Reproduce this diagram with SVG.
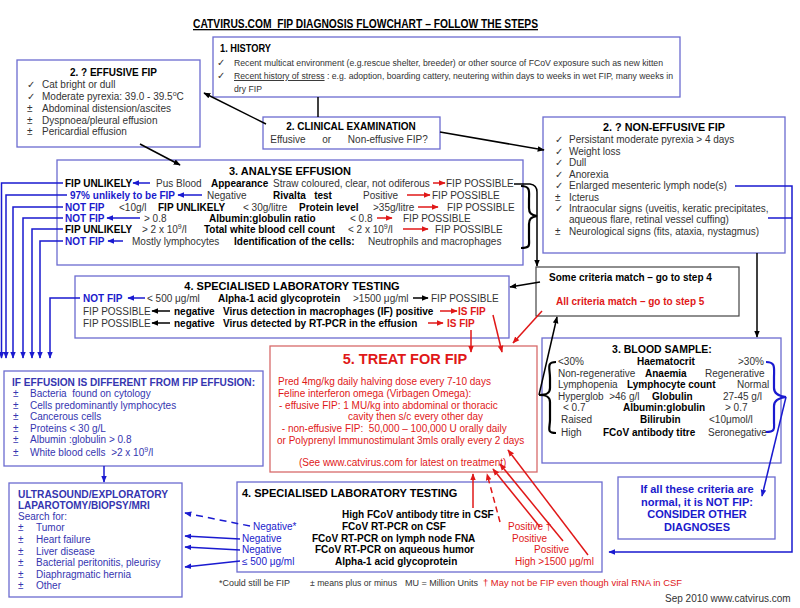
<svg xmlns="http://www.w3.org/2000/svg" width="800" height="608" viewBox="0 0 800 608">
<style>
text{font-family:"Liberation Sans",Arial,sans-serif;font-size:10px;fill:#333}
.b{font-weight:bold;fill:#000}
.bl{fill:#1a1acc}
.bt{fill:#3535b0}
.rd{fill:#e01818}
.box{fill:#fff;stroke:#6b6bd0;stroke-width:1.3}
.rbox{fill:#fff;stroke:#d86a6a;stroke-width:1.3}
.gbox{fill:#fff;stroke:#444;stroke-width:1.2}
.k{stroke:#000;stroke-width:1.5;fill:none}
.u{stroke:#1a1ad0;stroke-width:1.5;fill:none}
.r{stroke:#e01818;stroke-width:1.5;fill:none}
.h{font-size:9.6px}
.t11{font-size:11px}
.ft{font-size:9.4px}
</style>
<defs>
<marker id="ak" viewBox="0 0 10 10" refX="9" refY="5" markerWidth="7" markerHeight="7" orient="auto" markerUnits="userSpaceOnUse"><path d="M0,1 L10,5 L0,9 z" fill="#000"/></marker>
<marker id="au" viewBox="0 0 10 10" refX="9" refY="5" markerWidth="7" markerHeight="7" orient="auto" markerUnits="userSpaceOnUse"><path d="M0,1 L10,5 L0,9 z" fill="#1a1ad0"/></marker>
<marker id="ar" viewBox="0 0 10 10" refX="9" refY="5" markerWidth="7" markerHeight="7" orient="auto" markerUnits="userSpaceOnUse"><path d="M0,1 L10,5 L0,9 z" fill="#e01818"/></marker>
</defs>
<rect width="800" height="608" fill="#fff"/>
<text x="193" y="28" class="b" style="font-size:13px" textLength="345" lengthAdjust="spacingAndGlyphs" text-decoration="underline" xml:space="preserve">CATVIRUS.COM  FIP DIAGNOSIS FLOWCHART – FOLLOW THE STEPS</text>

<g id="history">
<rect x="213" y="37" width="467" height="60" class="box"/>
<text x="220" y="52" class="b" style="font-size:10.5px" textLength="51" lengthAdjust="spacingAndGlyphs">1. HISTORY</text>
<text x="217" y="66" class="h">✓</text>
<text x="234" y="66" class="h" textLength="429" lengthAdjust="spacingAndGlyphs">Recent multicat environment (e.g.rescue shelter, breeder) or other source of FCoV exposure such as new kitten</text>
<text x="217" y="79" class="h">✓</text>
<text x="234" y="79" class="h" textLength="439" lengthAdjust="spacingAndGlyphs"><tspan text-decoration="underline">Recent history of stress</tspan> : e.g. adoption, boarding cattery, neutering within days to weeks in wet FIP, many weeks in</text>
<text x="234" y="92" class="h" textLength="28" lengthAdjust="spacingAndGlyphs">dry FIP</text>
</g>

<g id="effusive">
<rect x="17" y="60" width="183" height="87" class="box"/>
<text x="70" y="76" class="b" style="font-size:10.5px" textLength="87" lengthAdjust="spacingAndGlyphs">2. ? EFFUSIVE FIP</text>
<text x="27" y="88">✓</text><text x="42" y="88">Cat bright or dull</text>
<text x="27" y="100">✓</text><text x="42" y="100">Moderate pyrexia: 39.0 - 39.5<tspan dy="-4" font-size="7">o</tspan><tspan dy="4">C</tspan></text>
<text x="27" y="112">±</text><text x="42" y="112">Abdominal distension/ascites</text>
<text x="27" y="123.5">±</text><text x="42" y="123.5">Dyspnoea/pleural effusion</text>
<text x="27" y="135">±</text><text x="42" y="135">Pericardial effusion</text>
</g>

<g id="clinical">
<rect x="263" y="117" width="177" height="32" class="box"/>
<text x="351" y="130" class="b" text-anchor="middle">2. CLINICAL EXAMINATION</text>
<text x="349" y="143" text-anchor="middle" xml:space="preserve">Effusive      or      Non-effusive FIP?</text>
</g>

<g id="noneffusive">
<rect x="543" y="117" width="242" height="136" class="box"/>
<text x="664" y="131" class="b" text-anchor="middle" style="font-size:10.8px">2. ? NON-EFFUSIVE FIP</text>
<text x="555" y="143">✓</text><text x="569" y="143">Persistant moderate pyrexia &gt; 4 days</text>
<text x="555" y="154.5">✓</text><text x="569" y="154.5">Weight loss</text>
<text x="555" y="166">✓</text><text x="569" y="166">Dull</text>
<text x="555" y="177.5">✓</text><text x="569" y="177.5">Anorexia</text>
<text x="555" y="189">✓</text><text x="569" y="189">Enlarged mesenteric lymph node(s)</text>
<text x="555" y="200.5">±</text><text x="569" y="200.5">Icterus</text>
<text x="555" y="212">✓</text><text x="569" y="212">Intraocular signs (uveitis, keratic precipitates,</text>
<text x="569" y="223">aqueous flare, retinal vessel cuffing)</text>
<text x="555" y="235">±</text><text x="569" y="235">Neurological signs (fits, ataxia, nystagmus)</text>
</g>

<g id="analyse">
<rect x="57" y="160" width="466" height="105" class="box"/>
<text x="290" y="175" class="b t11" text-anchor="middle">3. ANALYSE EFFUSION</text>
<text x="65" y="186.5" class="b">FIP UNLIKELY</text>
<text x="156" y="186.5">Pus Blood</text>
<text x="211" y="186.5" class="b">Appearance</text>
<text x="273" y="186.5">Straw coloured, clear, not odiferous</text>
<text x="446" y="186.5">FIP POSSIBLE</text>
<text x="70" y="198.5" class="b bl">97% unlikely to be FIP</text>
<text x="207" y="198.5">Negative</text>
<text x="273" y="198.5" class="b" xml:space="preserve">Rivalta   test</text>
<text x="363" y="198.5">Positive</text>
<text x="432" y="198.5">FIP POSSIBLE</text>
<text x="65" y="210.5" class="b bl">NOT FIP</text>
<text x="119" y="210.5">&lt;10g/l</text>
<text x="158" y="210.5" class="b">FIP UNLIKELY</text>
<text x="243" y="210.5">&lt; 30g/litre</text>
<text x="299" y="210.5" class="b">Protein level</text>
<text x="373" y="210.5">&gt;35g/litre</text>
<text x="447" y="210.5">FIP POSSIBLE</text>
<text x="65" y="221.5" class="b bl">NOT FIP</text>
<text x="144" y="221.5">&gt; 0.8</text>
<text x="209" y="221.5" class="b">Albumin:globulin ratio</text>
<text x="350" y="221.5">&lt; 0.8</text>
<text x="403" y="221.5">FIP POSSIBLE</text>
<text x="65" y="232.5" class="b">FIP UNLIKELY</text>
<text x="142" y="232.5">&gt; 2 x 10<tspan dy="-4" font-size="7">9</tspan><tspan dy="4">/l</tspan></text>
<text x="204" y="232.5" class="b">Total white blood cell count</text>
<text x="348" y="232.5">&lt; 2 x 10<tspan dy="-4" font-size="7">9</tspan><tspan dy="4">/l</tspan></text>
<text x="435" y="232.5">FIP POSSIBLE</text>
<text x="65" y="244.5" class="b bl">NOT FIP</text>
<text x="132" y="244.5">Mostly lymphocytes</text>
<text x="234" y="244.5" class="b">Identification of the cells:</text>
<text x="368" y="244.5">Neutrophils and macrophages</text>
</g>

<g id="speclab1">
<rect x="75" y="276" width="434" height="62" class="box"/>
<text x="292" y="290" class="b t11" text-anchor="middle">4. SPECIALISED LABORATORY TESTING</text>
<text x="83" y="301.5" class="b bl">NOT FIP</text>
<text x="147" y="301.5">&lt; 500 μg/ml</text>
<text x="218" y="301.5" class="b">Alpha-1 acid glycoprotein</text>
<text x="353" y="301.5">&gt;1500 μg/ml</text>
<text x="431" y="301.5">FIP POSSIBLE</text>
<text x="83" y="314.5">FIP POSSIBLE</text>
<text x="174" y="314.5" class="b">negative</text>
<text x="223" y="314.5" class="b">Virus detection in macrophages (IF) positive</text>
<text x="458" y="314.5" class="b rd">IS FIP</text>
<text x="83" y="326.5">FIP POSSIBLE</text>
<text x="174" y="326.5" class="b">negative</text>
<text x="223" y="326.5" class="b">Virus detected by RT-PCR in the effusion</text>
<text x="447" y="326.5" class="b rd">IS FIP</text>
</g>

<g id="criteria">
<rect x="536" y="267" width="203" height="49" class="gbox"/>
<text x="549" y="281" class="b">Some criteria match – go to step 4</text>
<text x="556" y="305" class="b rd">All criteria match – go to step 5</text>
</g>

<g id="treat">
<rect x="270" y="346" width="267" height="126" class="rbox"/>
<text x="405" y="364" class="b rd" text-anchor="middle" style="font-size:14.5px">5. TREAT FOR FIP</text>
<text x="278" y="384.5" class="rd">Pred 4mg/kg daily halving dose every 7-10 days</text>
<text x="278" y="396.5" class="rd">Feline interferon omega (Virbagen Omega):</text>
<text x="279" y="408.5" class="rd"> - effusive FIP: 1 MU/kg into abdominal or thoracic</text>
<text x="348" y="419.5" class="rd">cavity then s/c every other day</text>
<text x="279" y="431.5" class="rd" xml:space="preserve"> - non-effusive FIP:  50,000 – 100,000 U orally daily</text>
<text x="277" y="443.5" class="rd">or Polyprenyl Immunostimulant 3mls orally every 2 days</text>
<text x="299" y="465.5" class="rd">(See www.catvirus.com for latest on treatment)</text>
</g>

<g id="blood">
<rect x="542" y="338" width="239" height="125" class="box"/>
<text x="662" y="353" class="b" text-anchor="middle" style="font-size:10.5px">3. BLOOD SAMPLE:</text>
<text x="558" y="364.5">&lt;30%</text><text x="637" y="364.5" class="b">Haematocrit</text><text x="738" y="364.5">&gt;30%</text>
<text x="558" y="376.5">Non-regenerative</text><text x="645" y="376.5" class="b">Anaemia</text><text x="705" y="376.5">Regenerative</text>
<text x="558" y="388">Lymphopenia</text><text x="627" y="388" class="b">Lymphocyte count</text><text x="737" y="388">Normal</text>
<text x="558" y="399.5" xml:space="preserve">Hyperglob  &gt;46 g/l</text><text x="652" y="399.5" class="b">Globulin</text><text x="723" y="399.5">27-45 g/l</text>
<text x="563" y="411">&lt; 0.7</text><text x="623" y="411" class="b">Albumin:globulin</text><text x="725" y="411">&gt; 0.7</text>
<text x="561" y="422.5">Raised</text><text x="640" y="422.5" class="b">Bilirubin</text><text x="709" y="422.5">&lt;10μmol/l</text>
<text x="561" y="435.5">High</text><text x="603" y="435.5" class="b">FCoV antibody titre</text><text x="708" y="435.5">Seronegative</text>
</g>

<g id="effusiondiff">
<rect x="4" y="371" width="259" height="95" class="box"/>
<text x="12" y="386" class="b bt" textLength="243" lengthAdjust="spacingAndGlyphs">IF EFFUSION IS DIFFERENT FROM FIP EFFUSION:</text>
<text x="13" y="397" class="bt">±</text><text x="30" y="397" class="bt" xml:space="preserve">Bacteria  found on cytology</text>
<text x="13" y="409" class="bt">±</text><text x="30" y="409" class="bt">Cells predominantly lymphocytes</text>
<text x="13" y="420" class="bt">±</text><text x="30" y="420" class="bt">Cancerous cells</text>
<text x="13" y="432" class="bt">±</text><text x="30" y="432" class="bt">Proteins &lt; 30 g/L</text>
<text x="13" y="443" class="bt">±</text><text x="30" y="443" class="bt">Albumin :globulin &gt; 0.8</text>
<text x="13" y="456" class="bt">±</text><text x="30" y="456" class="bt" xml:space="preserve">White blood cells  &gt;2 x 10<tspan dy="-4" font-size="7">9</tspan><tspan dy="4">/l</tspan></text>
</g>

<g id="ultrasound">
<rect x="9" y="483" width="173" height="114" class="box"/>
<text x="18" y="498" class="b bt" textLength="150" lengthAdjust="spacingAndGlyphs">ULTRASOUND/EXPLORATORY</text>
<text x="18" y="509" class="b bt">LAPAROTOMY/BIOPSY/MRI</text>
<text x="18" y="520" class="bt">Search for:</text>
<text x="18" y="531" class="bt">±</text><text x="36" y="531" class="bt">Tumor</text>
<text x="18" y="543" class="bt">±</text><text x="36" y="543" class="bt">Heart failure</text>
<text x="18" y="555" class="bt">±</text><text x="36" y="555" class="bt">Liver disease</text>
<text x="18" y="566" class="bt">±</text><text x="36" y="566" class="bt">Bacterial peritonitis, pleurisy</text>
<text x="18" y="578" class="bt">±</text><text x="36" y="578" class="bt">Diaphragmatic hernia</text>
<text x="18" y="589" class="bt">±</text><text x="36" y="589" class="bt">Other</text>
</g>

<g id="speclab2">
<rect x="237" y="482" width="365" height="90" class="box"/>
<text x="242" y="497" class="b t11">4. SPECIALISED LABORATORY TESTING</text>
<text x="342" y="518" class="b">High FCoV antibody titre in CSF</text>
<text x="253" y="530" class="bl">Negative*</text><text x="342" y="530" class="b">FCoV RT-PCR on CSF</text><text x="508" y="530" class="rd">Positive †</text>
<text x="242" y="542" class="bl">Negative</text><text x="312" y="542" class="b">FCoV RT-PCR on lymph node FNA</text><text x="512" y="542" class="rd">Positive</text>
<text x="242" y="553" class="bl">Negative</text><text x="315" y="553" class="b">FCoV RT-PCR on aqueous humor</text><text x="534" y="553" class="rd">Positive</text>
<text x="242" y="565" class="bl">≤ 500 μg/ml</text><text x="335" y="565" class="b">Alpha-1 acid glycoprotein</text><text x="515" y="565" class="rd">High &gt;1500 μg/ml</text>
</g>

<g id="notfip">
<rect x="618" y="477" width="157" height="62" class="box"/>
<text x="697" y="493" class="b bl t11" text-anchor="middle">If all these criteria are</text>
<text x="697" y="506" class="b bl t11" text-anchor="middle">normal, it is NOT FIP:</text>
<text x="697" y="518" class="b bl t11" text-anchor="middle">CONSIDER OTHER</text>
<text x="697" y="531" class="b bl t11" text-anchor="middle">DIAGNOSES</text>
</g>

<g id="footer">
<text x="219" y="586" class="ft" textLength="71" lengthAdjust="spacingAndGlyphs">*Could still be FIP</text>
<text x="310" y="586" class="ft" textLength="87" lengthAdjust="spacingAndGlyphs">± means plus or minus</text>
<text x="405" y="586" class="ft" textLength="73" lengthAdjust="spacingAndGlyphs">MU = Million Units</text>
<text x="483" y="586" class="ft rd" textLength="199" lengthAdjust="spacingAndGlyphs">† May not be FIP even though viral RNA in CSF</text>
<text x="665" y="602">Sep 2010  www.catvirus.com</text>
</g>

<g id="connectors">
<line x1="318" y1="97" x2="318" y2="117" class="k"/>
<line x1="266" y1="124" x2="204" y2="93" class="k" marker-end="url(#ak)"/>
<line x1="440" y1="132" x2="544" y2="150" class="k" marker-end="url(#ak)"/>
<line x1="140" y1="144" x2="180" y2="165" class="k" marker-end="url(#ak)"/>
<path d="M514,184 L530,184 Q537,185 537,192 L537,266" class="k" marker-end="url(#ak)"/>
<path d="M521,186 C531,186 529,192 529,200 L529,208 C529,213 531,215 537,216 C531,217 529,219 529,224 L529,238 C529,245 531,248 521,248" stroke="#000" stroke-width="2.2" fill="none"/>
<line x1="540" y1="282" x2="510" y2="287" class="k" marker-end="url(#ak)"/>
<line x1="757" y1="253" x2="757" y2="337" class="k" marker-end="url(#ak)"/>
<path d="M539,395 L557,317" class="k" marker-end="url(#ak)"/>
<path d="M556,362 C546,362 550,368 550,378 L550,388 C550,393 547,395 539,395 C547,395 550,397 550,402 L550,420 C550,428 546,433 556,433" stroke="#000" stroke-width="2.2" fill="none"/>
<path d="M766,362 C776,362 774,368 774,378 L774,388 C774,393 778,396 786,397 C778,398 774,401 774,406 L774,422 C774,428 776,432 766,432" stroke="#1a1ad0" stroke-width="2.2" fill="none"/>
<line x1="786" y1="397" x2="762" y2="496" class="u" marker-end="url(#au)"/>
<path d="M735,186 L792,186 L792,552 L609,552" class="u" marker-end="url(#au)"/>
<line x1="768" y1="218" x2="792" y2="218" class="u"/>
<path d="M542,311 L513,343" class="r" marker-end="url(#ar)"/>
<path d="M493,315 L502,352" class="r" marker-end="url(#ar)"/>
<path d="M471,330 L471,352" class="r" marker-end="url(#ar)"/>
<line x1="473" y1="508" x2="473" y2="474" class="r" marker-end="url(#ar)"/>
<line x1="500" y1="522" x2="487" y2="474" class="r" stroke-dasharray="6,4" marker-end="url(#ar)"/>
<line x1="540" y1="527" x2="493" y2="469" class="r" marker-end="url(#ar)"/>
<line x1="563" y1="541" x2="500" y2="464" class="r" marker-end="url(#ar)"/>
<line x1="588" y1="555" x2="508" y2="450" class="r" marker-end="url(#ar)"/>
<path d="M63,183 L1.5,183 L1.5,358" class="u" marker-end="url(#au)"/>
<path d="M67,195 L6,195 L6,358" class="u" marker-end="url(#au)"/>
<path d="M63,207 L13,207 L13,358" class="u" marker-end="url(#au)"/>
<path d="M63,218 L23,218 L23,358" class="u" marker-end="url(#au)"/>
<path d="M63,229 L32,229 L32,358" class="u" marker-end="url(#au)"/>
<path d="M63,241 L40,241 L40,358" class="u" marker-end="url(#au)"/>
<path d="M80,298 L50,298 L50,358" class="u" marker-end="url(#au)"/>
<line x1="150" y1="183" x2="133" y2="183" class="u" marker-end="url(#au)"/>
<line x1="433" y1="183" x2="445" y2="183" class="r" marker-end="url(#ar)"/>
<line x1="202" y1="195" x2="178" y2="195" class="u" marker-end="url(#au)"/>
<line x1="407" y1="195" x2="430" y2="195" class="r" marker-end="url(#ar)"/>
<line x1="418" y1="207" x2="438" y2="207" class="r" marker-end="url(#ar)"/>
<line x1="140" y1="218" x2="107" y2="218" class="u" marker-end="url(#au)"/>
<line x1="377" y1="218" x2="392" y2="218" class="r" marker-end="url(#ar)"/>
<line x1="403" y1="229" x2="428" y2="229" class="r" marker-end="url(#ar)"/>
<line x1="123" y1="241" x2="108" y2="241" class="u" marker-end="url(#au)"/>
<line x1="145" y1="298" x2="128" y2="298" class="u" marker-end="url(#au)"/>
<line x1="413" y1="298" x2="428" y2="298" class="k" marker-end="url(#ak)"/>
<line x1="170" y1="311" x2="152" y2="311" class="k" marker-end="url(#ak)"/>
<line x1="440" y1="311" x2="457" y2="311" class="r" marker-end="url(#ar)"/>
<line x1="170" y1="323" x2="152" y2="323" class="k" marker-end="url(#ak)"/>
<line x1="428" y1="323" x2="443" y2="323" class="r" marker-end="url(#ar)"/>
<line x1="104" y1="466" x2="104" y2="482" class="u" marker-end="url(#au)"/>
<line x1="250" y1="526" x2="185" y2="513" class="u" stroke-dasharray="7,5" marker-end="url(#au)"/>
<line x1="240" y1="539" x2="185" y2="536" class="u" marker-end="url(#au)"/>
<line x1="240" y1="550" x2="185" y2="547" class="u" marker-end="url(#au)"/>
<line x1="240" y1="561" x2="185" y2="567" class="u" marker-end="url(#au)"/>
</g>
</svg>
